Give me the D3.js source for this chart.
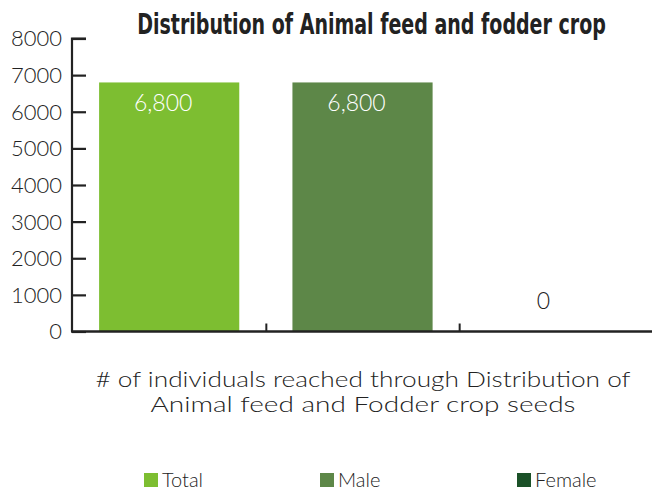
<!DOCTYPE html>
<html>
<head>
<meta charset="utf-8">
<script src="https://cdn.jsdelivr.net/npm/d3@7"></script>
<style>
  html, body { margin: 0; padding: 0; background: #fff; }
  svg { display: block; }
</style>
</head>
<body>
<svg id="chart" width="652" height="494"></svg>
<script>
const categories = ["Total", "Male", "Female"];
const values = [6800, 6800, 0];
const valueLabels = ["6,800", "6,800", "0"];
const yTicks = [0, 1000, 2000, 3000, 4000, 5000, 6000, 7000, 8000];
const colors = ["#7dbe31", "#5d8748", "#1b5128"];
const title = "Distribution of Animal feed and fodder crop";
const axisTitle = ["# of individuals reached through Distribution of", "Animal feed and Fodder crop seeds"];

const svg = d3.select("#chart");
const font = "Lato, 'Open Sans', sans-serif";
const weight = 300;
const textColor = "#222";

const x = d3.scaleBand().domain(categories).range([73, 653]).padding(0);
const y = d3.scaleLinear().domain([0, 8000]).range([331.5, 38.5]);

// Title: fit width to ~469px, then stretch vertically to match the tall condensed face
const tg = svg.append("g");
const tt = tg.append("text")
  .attr("x", 0).attr("y", 0)
  .attr("text-anchor", "middle")
  .attr("font-family", "'Liberation Sans Narrow', 'DejaVu Sans Condensed', sans-serif")
  .attr("font-weight", "bold")
  .attr("font-size", 24)
  .attr("fill", "#222")
  .text(title);
const natural = tt.node().getComputedTextLength();
const fs = 24 * 469 / natural;
tt.attr("font-size", fs);
const sy = 21 / (0.729 * fs);
tg.attr("transform", `translate(371.5,34) scale(1,${sy})`);

// Bars
const bw = x.bandwidth();
svg.selectAll("rect.bar").data(categories).enter().append("rect")
  .attr("class", "bar")
  .attr("x", d => x(d) + bw * 0.135)
  .attr("width", bw * 0.725)
  .attr("y", (d, i) => y(values[i]))
  .attr("height", (d, i) => y(0) - y(values[i]))
  .attr("fill", (d, i) => colors[i]);

// Y axis
const yAxis = d3.axisRight(y).tickValues(yTicks).tickSize(14).tickFormat("");
const yg = svg.append("g").attr("transform", "translate(72,0)").call(yAxis);
yg.select(".domain").attr("stroke", "#222").attr("stroke-width", 2.2).attr("d", `M14,${y(8000)}H0V${y(0)}`);
yg.selectAll(".tick line").attr("stroke", "#222").attr("stroke-width", 2.2);
svg.selectAll("text.ylab").data(yTicks).enter().append("text")
  .attr("class", "ylab")
  .attr("x", 62).attr("y", d => y(d))
  .attr("dy", "0.36em")
  .attr("text-anchor", "end")
  .attr("font-family", font)
  .attr("font-weight", weight)
  .attr("font-size", 22)
  .attr("fill", textColor)
  .text(d => d);

// X axis
const xAxis = d3.axisTop(x).tickSize(0).tickFormat("");
const xg = svg.append("g").attr("transform", `translate(0,${y(0)})`).call(xAxis);
xg.select(".domain").remove();
xg.append("line").attr("x1", 71).attr("x2", 652).attr("y1", 0).attr("y2", 0)
  .attr("stroke", "#222").attr("stroke-width", 2.6);
xg.selectAll("line.sep").data(categories.slice(1)).enter().append("line")
  .attr("class", "sep")
  .attr("x1", d => x(d)).attr("x2", d => x(d))
  .attr("y1", 0).attr("y2", -8)
  .attr("stroke", "#222").attr("stroke-width", 2);

// Value labels
svg.selectAll("text.vlab").data(categories).enter().append("text")
  .attr("class", "vlab")
  .attr("x", (d, i) => x(d) + bw / 2 - (values[i] === 0 ? 13 : 6.5))
  .attr("y", (d, i) => values[i] === 0 ? y(0) - 31 : y(values[i]) + 20)
  .attr("dy", "0.36em")
  .attr("text-anchor", "middle")
  .attr("font-family", font)
  .attr("font-weight", weight)
  .attr("font-size", 23)
  .attr("fill", (d, i) => values[i] === 0 ? textColor : "#fff")
  .text((d, i) => valueLabels[i]);

// Axis title
const titleWidths = [535, 425];
svg.selectAll("text.atitle").data(axisTitle).enter().append("text")
  .attr("class", "atitle")
  .attr("x", 363).attr("y", (d, i) => 387 + i * 25)
  .attr("text-anchor", "middle")
  .attr("font-family", font)
  .attr("font-weight", weight)
  .attr("font-size", 21)
  .attr("textLength", (d, i) => titleWidths[i])
  .attr("lengthAdjust", "spacingAndGlyphs")
  .attr("fill", textColor)
  .text(d => d);

// Legend
const legendX = [144, 320, 517];
const lg = svg.selectAll("g.leg").data(categories).enter().append("g")
  .attr("class", "leg")
  .attr("transform", (d, i) => `translate(${legendX[i]},473)`);
lg.append("rect").attr("width", 14).attr("height", 14).attr("fill", (d, i) => colors[i]);
lg.append("text").attr("x", 18).attr("y", 7).attr("dy", "0.36em")
  .attr("font-family", font).attr("font-weight", weight).attr("font-size", 20).attr("fill", textColor)
  .text(d => d);
</script>
</body>
</html>
